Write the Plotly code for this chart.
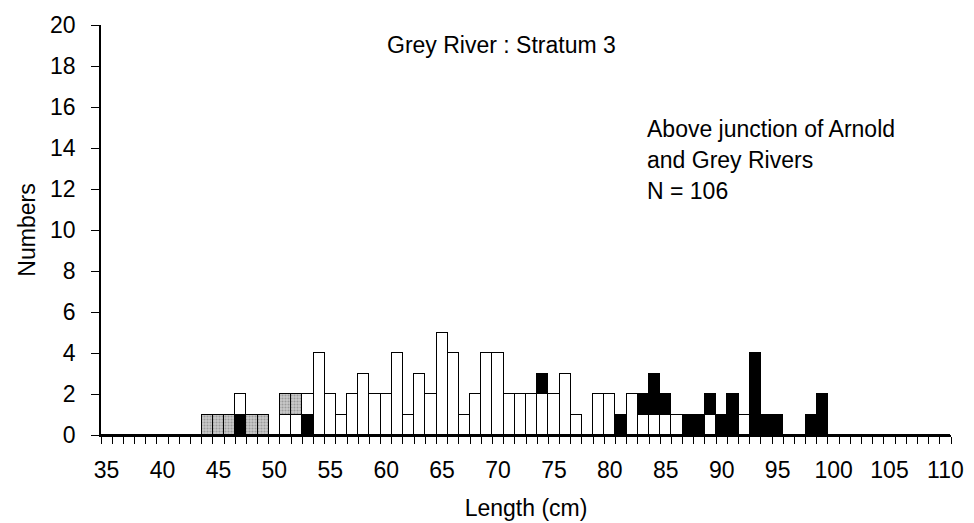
import plotly.graph_objects as go

# Length classes (cm)
lengths = list(range(35, 111))

# counts per length class, by series (bottom -> top of stack)
black_low = {47: 1, 53: 1}
white = {47: 1, 51: 1, 52: 1, 53: 1, 54: 4, 55: 2, 56: 1, 57: 2, 58: 3, 59: 2, 60: 2,
         61: 4, 62: 1, 63: 3, 64: 2, 65: 5, 66: 4, 67: 1, 68: 2, 69: 4, 70: 4,
         71: 2, 72: 2, 73: 2, 74: 2, 75: 2, 76: 3, 77: 1, 79: 2, 80: 2, 82: 2,
         83: 1, 84: 1, 85: 1, 86: 1, 89: 1, 92: 1}
grey = {44: 1, 45: 1, 46: 1, 48: 1, 49: 1, 51: 1, 52: 1}
black_high = {74: 1, 81: 1, 83: 1, 84: 2, 85: 1, 87: 1, 88: 1, 89: 1, 90: 1, 91: 2,
              93: 4, 94: 1, 95: 1, 98: 1, 99: 2}

tick_labels = list(range(35, 111, 5))

def col(d):
    return [d.get(L, 0) for L in lengths]

line = dict(color="black", width=1.5)
fig = go.Figure()
fig.add_bar(x=lengths, y=col(black_low), marker=dict(color="black", line=line), width=1)
fig.add_bar(x=lengths, y=col(white), marker=dict(color="white", line=line), width=1)
fig.add_bar(x=lengths, y=col(grey), width=1,
            marker=dict(color="#bdbdbd", line=line,
                        pattern=dict(shape=".", fgcolor="#6e6e6e", bgcolor="#c9c9c9",
                                     size=3, solidity=0.4)))
fig.add_bar(x=lengths, y=col(black_high), marker=dict(color="black", line=line), width=1)

font = dict(family="Liberation Sans, Arial, sans-serif", size=23, color="black")

fig.update_layout(
    barmode="stack", bargap=0, showlegend=False,
    width=974, height=523,
    margin=dict(l=101, r=23, t=25, b=88, autoexpand=False),
    plot_bgcolor="white", paper_bgcolor="white",
    font=font,
    xaxis=dict(range=[34.5, 110.5], tickvals=tick_labels, ticktext=[str(v) for v in tick_labels],
               ticks="", showgrid=False, zeroline=False, automargin=False,
               showline=True, linecolor="black", linewidth=1.5,
               ticklabelstandoff=14,
               minor=dict(ticks="outside", tick0=34.5, dtick=1, ticklen=7,
                          tickcolor="black", tickwidth=1.2, showgrid=False),
               title=dict(text="Length (cm)", font=font, standoff=18)),
    yaxis=dict(range=[0, 20], dtick=2, ticks="outside", ticklen=8, tickcolor="black",
               tickwidth=1.2, automargin=False,
               showgrid=False, zeroline=False, showline=True, linecolor="black",
               linewidth=1.5, ticklabelstandoff=11,
               title=dict(text="Numbers", font=font, standoff=8)),
)

fig.add_annotation(text="Grey River : Stratum 3", x=(385 - 101) / 850, xanchor="left",
                   xref="paper", y=1 - (45 - 25) / 410, yref="paper", yanchor="middle",
                   showarrow=False, font=font)

ann_lines = ["Above junction of Arnold", "and Grey Rivers", "N = 106"]
for i, t in enumerate(ann_lines):
    ypix = 129 + 31 * i
    fig.add_annotation(text=t, x=(645 - 101) / 850, xanchor="left", xref="paper",
                       y=1 - (ypix - 25) / 410, yref="paper", yanchor="middle",
                       showarrow=False, font=font)

fig.write_html("out.html")
